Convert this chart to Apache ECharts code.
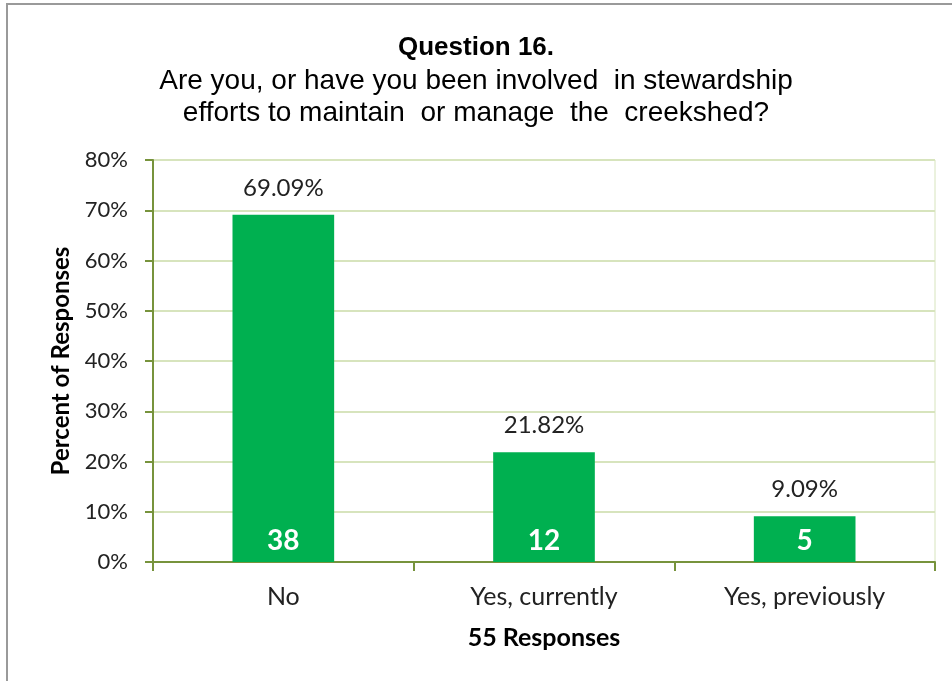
<!DOCTYPE html>
<html><head><meta charset="utf-8">
<script src="https://cdn.jsdelivr.net/npm/echarts@6/dist/echarts.min.js"></script>
<style>html,body{margin:0;padding:0;background:#fff}#c{width:952px;height:681px}</style>
</head><body><div id="c"></div>
<script>
const categories = ['No', 'Yes, currently', 'Yes, previously'];
const percents = [69.09, 21.82, 9.09];
const counts = [38, 12, 5];
const yTicks = [0, 10, 20, 30, 40, 50, 60, 70, 80];
const titleLines = ['Question 16.', 'Are you, or have you been involved  in stewardship', 'efforts to maintain  or manage  the  creekshed?'];

const chart = echarts.init(document.getElementById('c'));
const axisCol = '#77933C';
const gridCol = '#D7E4BD';
const lab = 'Lato, "Open Sans", sans-serif';
const tf = '"Liberation Sans", Arial, sans-serif';
chart.setOption({
  animation: false,
  graphic: [{
    type: 'rect', shape: {x: 7, y: 4, width: 960, height: 700},
    style: {fill: 'none', stroke: '#9a9a9a', lineWidth: 2}, silent: true
  }],
  title: [{
    text: titleLines[0], left: 'center', top: 30,
    textStyle: {fontFamily: tf, fontSize: 26, fontWeight: 'bold', color: '#000'}
  }, {
    text: titleLines[1], left: 'center', top: 62,
    textStyle: {fontFamily: tf, fontSize: 28, fontWeight: 'normal', color: '#000'}
  }, {
    text: titleLines[2], left: 'center', top: 94,
    textStyle: {fontFamily: tf, fontSize: 28, fontWeight: 'normal', color: '#000'}
  }],
  grid: {left: 153, right: 17, top: 160, bottom: 119, show: true, borderColor: gridCol, borderWidth: 1, backgroundColor: 'transparent'},
  xAxis: {
    type: 'category', data: categories,
    name: '55 Responses', nameLocation: 'middle', nameGap: 63,
    nameTextStyle: {fontFamily: lab, fontSize: 25, fontWeight: 'bold', color: '#000'},
    axisLine: {lineStyle: {color: axisCol, width: 2}},
    axisTick: {show: true, length: 9, lineStyle: {color: axisCol, width: 2}},
    axisLabel: {fontFamily: lab, fontSize: 25, color: '#222', margin: 22}
  },
  yAxis: {
    type: 'value', min: 0, max: 80, interval: 10,
    name: 'Percent of Responses', nameLocation: 'middle', nameGap: 80,
    nameTextStyle: {fontFamily: lab, fontSize: 24, fontWeight: 'bold', color: '#000'},
    axisLine: {show: true, lineStyle: {color: axisCol, width: 2}},
    axisTick: {show: true, length: 8, lineStyle: {color: axisCol, width: 2}},
    splitLine: {lineStyle: {color: gridCol, width: 2}},
    axisLabel: {fontFamily: lab, fontSize: 22, color: '#222', margin: 25,
      formatter: v => yTicks.includes(v) ? v + '%' : ''}
  },
  series: [{
    type: 'bar', data: percents, barWidth: '39%',
    itemStyle: {color: '#00B050'},
    label: {show: true, position: 'top', distance: 15, fontFamily: lab, fontSize: 24, color: '#222',
      formatter: p => p.value.toFixed(2) + '%'}
  }, {
    type: 'bar', data: percents, barWidth: '39%', barGap: '-100%', silent: true,
    itemStyle: {color: 'rgba(0,0,0,0)'},
    label: {show: true, position: 'insideBottom', distance: 7, fontFamily: lab, fontSize: 28, fontWeight: 'bold', color: '#fff',
      formatter: p => String(counts[p.dataIndex])}
  }]
});
</script></body></html>
